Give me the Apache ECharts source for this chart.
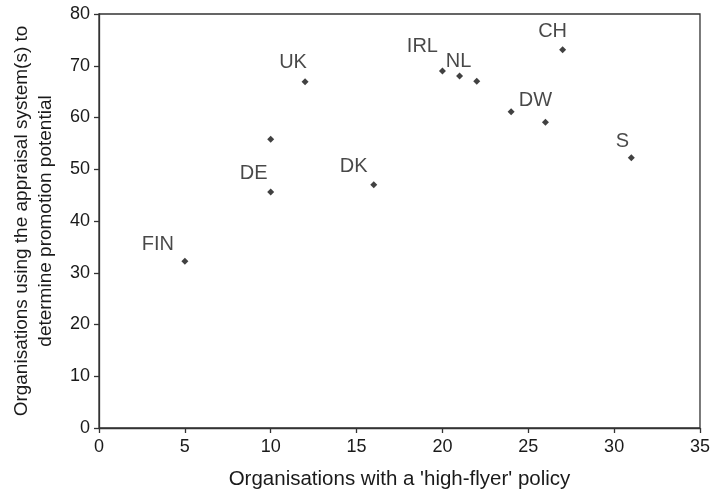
<!DOCTYPE html>
<html>
<head>
<meta charset="utf-8">
<script src="https://cdn.jsdelivr.net/npm/echarts@6/dist/echarts.min.js"></script>
<style>html,body{margin:0;padding:0;background:#fff}#c{width:713px;height:495px}</style>
</head>
<body>
<div id="c"></div>
<script>
var xValues = [5, 10, 10, 12, 16, 20, 21, 22, 24, 26, 27, 31];
var yValues = [32.2, 45.6, 55.8, 66.9, 47.0, 69.0, 68.0, 67.0, 61.1, 59.1, 73.1, 52.2];
var pointLabels = ['FIN', 'DE', '', 'UK', 'DK', 'IRL', 'NL', '', '', 'DW', 'CH', 'S'];
var xTitle = "Organisations with a 'high-flyer' policy";
var yTitle = "Organisations using the appraisal system(s) to\ndetermine promotion potential";

// label placement (styling only)
var labelOffsets = {
  'FIN': [-27, -17], 'DE': [-17, -19], 'UK': [-12, -19], 'DK': [-20, -18],
  'IRL': [-20, -24], 'NL': [-1, -15], 'DW': [-10, -22], 'CH': [-10, -18], 'S': [-9, -16]
};

var data = xValues.map(function (x, i) {
  var name = pointLabels[i];
  var item = { value: [x, yValues[i]], name: name };
  if (name) {
    item.label = { show: true, position: 'inside', offset: labelOffsets[name], formatter: name };
  }
  return item;
});

var textColor = '#1a1a1a';
var ff = 'Liberation Sans, Arial, sans-serif';
var chart = echarts.init(document.getElementById('c'), null, { renderer: 'canvas' });
chart.setOption({
  animation: false,
  backgroundColor: '#ffffff',
  textStyle: { fontFamily: ff },
  grid: { left: 99, right: 12, top: 14, bottom: 67, show: true, borderColor: '#333', borderWidth: 1.3, backgroundColor: 'transparent' },
  xAxis: {
    type: 'value', min: 0, max: 35, interval: 5,
    name: xTitle, nameLocation: 'middle', nameGap: 41,
    nameTextStyle: { fontSize: 20.5, color: textColor, fontFamily: ff },
    axisLine: { show: true, onZero: false, lineStyle: { color: '#333', width: 1.3 } },
    axisTick: { show: true, inside: false, length: 5, lineStyle: { color: '#333', width: 1.3 } },
    axisLabel: { fontSize: 18, color: textColor, margin: 10, fontFamily: ff },
    splitLine: { show: false }
  },
  yAxis: {
    type: 'value', min: 0, max: 80, interval: 10,
    name: yTitle, nameLocation: 'middle', nameGap: 41, nameRotate: 90,
    nameTextStyle: { fontSize: 19, color: textColor, lineHeight: 24, align: 'center', fontFamily: ff },
    axisLine: { show: true, lineStyle: { color: '#333', width: 1.3 } },
    axisTick: { show: true, inside: false, length: 5, lineStyle: { color: '#333', width: 1.3 } },
    axisLabel: { fontSize: 18, color: textColor, margin: 9, fontFamily: ff },
    splitLine: { show: false }
  },
  series: [{
    type: 'scatter',
    symbol: 'diamond',
    symbolSize: 7,
    itemStyle: { color: '#111' },
    label: { show: false, fontSize: 20, color: textColor, fontFamily: ff },
    emphasis: { disabled: true },
    data: data
  }]
});
</script>
</body>
</html>
